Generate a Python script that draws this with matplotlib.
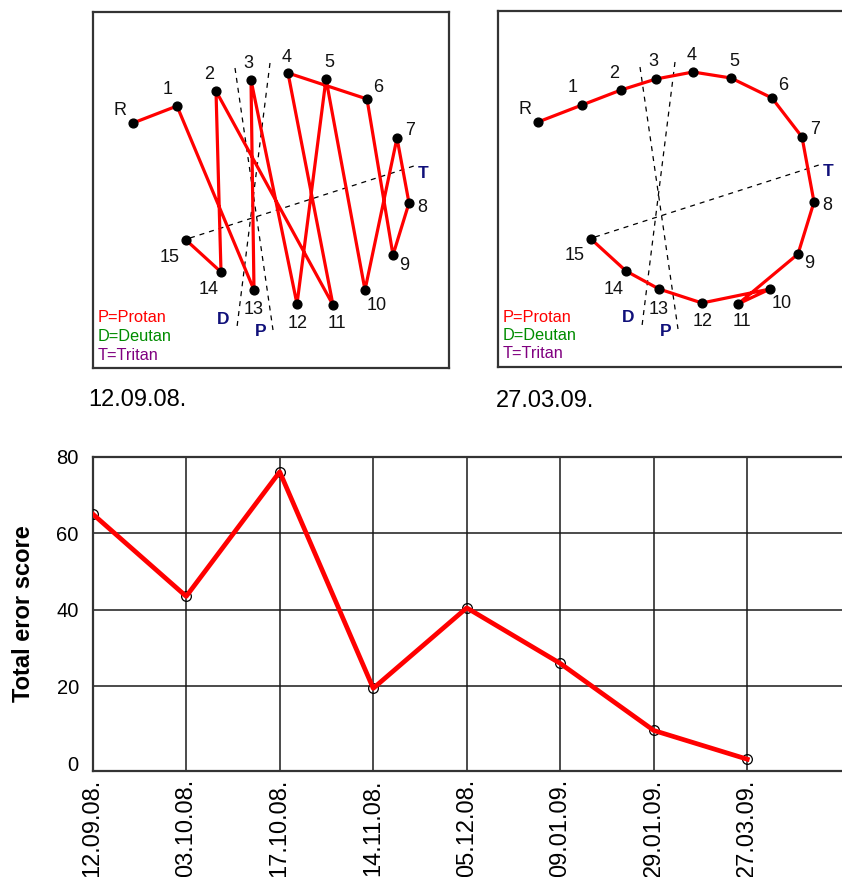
import matplotlib
matplotlib.use("Agg")
import matplotlib.pyplot as plt

plt.rcParams['font.family'] = ['Liberation Sans', 'DejaVu Sans']

# ---------------- data ----------------
dates = ['12.09.08.', '03.10.08.', '17.10.08.', '14.11.08.',
         '05.12.08.', '09.01.09.', '29.01.09.', '27.03.09.']
error_scores = [65, 43.5, 76, 19.5, 40.5, 26, 8.5, 1]

cap_labels = ['R', '1', '2', '3', '4', '5', '6', '7', '8', '9',
              '10', '11', '12', '13', '14', '15']
cap_x = [40, 84, 123, 158, 195, 233, 274, 304, 316, 300, 272, 240, 204, 161, 128, 93]
cap_y = [111, 94, 79, 68, 61, 67, 87, 126, 191, 243, 278, 293, 292, 278, 260, 228]

order_first = ['R', '1', '13', '3', '12', '5', '10', '7', '8', '9',
               '6', '4', '11', '2', '14', '15']
order_last = ['R', '1', '2', '3', '4', '5', '6', '7', '8', '9',
              '11', '10', '12', '13', '14', '15']
panel_dates = ['12.09.08.', '27.03.09.']

legend_items = ['P=Protan', 'D=Deutan', 'T=Tritan']

# ---------------- styling ----------------
W, H = 842, 877
fig = plt.figure(figsize=(W / 100, H / 100), dpi=100)

def rect(x0, y0, x1, y1):
    return [x0 / W, 1 - y1 / H, (x1 - x0) / W, (y1 - y0) / H]

label_off = [(-13, -13), (-9, -17), (-7, -17), (-3, -17), (-1, -16), (3, -17),
             (11, -12), (13, -8), (13, 4), (11, 10), (12, 15), (4, 18),
             (1, 19), (0, 20), (-12, 18), (-16, 17)]
legend_colors = ['#ff0000', '#008c00', '#800080']
axis_color = '#10107a'

def draw_panel(ax, order):
    ax.set_xlim(0, 356)
    ax.set_ylim(356, 0)
    ax.set_xticks([])
    ax.set_yticks([])
    for s in ax.spines.values():
        s.set_color('#333333')
        s.set_linewidth(1.6)
    # confusion axes (dashed)
    dash = dict(color='black', lw=0.9, ls=(0, (4, 4)), zorder=1)
    ax.plot([142, 180], [56, 318], **dash)
    ax.plot([177, 144], [51, 315], **dash)
    ax.plot([97, 324], [226, 153], **dash)
    for t, x, y in [('D', 130, 307), ('P', 168, 320), ('T', 330, 161)]:
        ax.text(x, y, t, color=axis_color, fontsize=12.5, fontweight='bold',
                ha='center', va='center')
    # caps
    ax.scatter(cap_x, cap_y, s=40, color='black', zorder=3)
    for lab, x, y, (dx, dy) in zip(cap_labels, cap_x, cap_y, label_off):
        ax.text(x + dx, y + dy, lab, fontsize=13, ha='center', va='center',
                color='#111111')
    idx = [cap_labels.index(c) for c in order]
    ax.plot([cap_x[i] for i in idx], [cap_y[i] for i in idx],
            color='#ff0000', lw=2.3, zorder=2, solid_joinstyle='round')
    for k, (t, c) in enumerate(zip(legend_items, legend_colors)):
        ax.text(5, 306 + k * 18.5, t, color=c, fontsize=11.8,
                ha='left', va='center')

ax1 = fig.add_axes(rect(93, 12, 449, 368))
draw_panel(ax1, order_first)
ax2 = fig.add_axes(rect(498, 11, 854, 367))
draw_panel(ax2, order_last)

fig.text(88 / W, 1 - 400 / H, panel_dates[0], fontsize=17, ha='left', va='center')
fig.text(496 / W, 1 - 401 / H, panel_dates[1], fontsize=17, ha='left', va='center')

# ---------------- bottom chart ----------------
ax = fig.add_axes(rect(92.7, 456.5, 852, 770.7))
xs = list(range(len(dates)))
ax.plot(xs, error_scores, ls='none', marker='o', ms=7, mfc='none',
        mec='black', mew=0.9, zorder=3)
ax.plot(xs, error_scores, color='#ff0000', lw=3.4, zorder=4,
        solid_joinstyle='round')
ax.set_xlim(0, 8.12)
ax.set_ylim(-2, 80)
ax.set_yticks([0, 20, 40, 60, 80])
ax.set_xticks(xs)
ax.set_xticklabels(dates, rotation=90, fontsize=17, va='top')
ax.tick_params(axis='y', labelsize=14.5, length=0, pad=10)
ax.tick_params(axis='x', length=0, pad=6)
ax.grid(True, color='#1a1a1a', lw=1.1)
ygl = ax.yaxis.get_gridlines()
ygl[0].set_visible(False)
ygl[-1].set_visible(False)
ax.spines['right'].set_visible(False)
for s in ['left', 'top', 'bottom']:
    ax.spines[s].set_color('#333333')
    ax.spines[s].set_linewidth(1.6)
ax.set_ylabel('Total eror score', fontsize=17, fontweight='bold')
ax.yaxis.set_label_coords(-58 / (852 - 92.7), 0.5)

fig.savefig('out.png', dpi=100)
